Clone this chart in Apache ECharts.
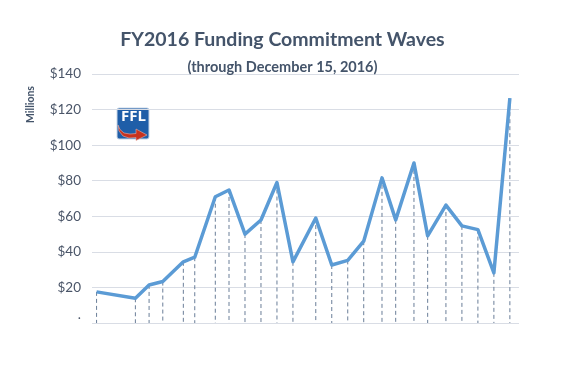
<!DOCTYPE html>
<html><head><meta charset="utf-8">
<script src="https://cdn.jsdelivr.net/npm/echarts@6/dist/echarts.min.js"></script>
<style>html,body{margin:0;padding:0;background:#fff}#c{width:565px;height:382px}</style>
</head><body><div id="c"></div>
<script>
// Wave timing (days from first wave) and commitment amounts ($ millions)
const waveDays = [0,17,23,29,38,43,52,58,65,72,79,86,96,103,110,117,125,131,139,145,153,160,167,174,181];
const waveValues = [17.5,13.9,21.4,23.3,34.4,37,71,74.8,50,57.9,79,34.4,59,32.6,35.2,46,81.6,58,90,49,66.3,54.6,52.5,28.2,126.4];
const yTicks = [0,20,40,60,80,100,120,140];
const titleText = 'FY2016 Funding Commitment Waves';
const subtitleText = '(through December 15, 2016)';
const yAxisName = 'Millions';

const pts = waveDays.map((d,i)=>[d, waveValues[i]]);
const txt = '#44546a';
const arrowPts = [[1,17],[3,21.5],[7,25],[13,26],[19,25.5],[19,21],[30,27],[19,32.5],[19,29.5],[12,30],[6,28],[2,23]];
const chart = echarts.init(document.getElementById('c'));
chart.setOption({
  animation:false,
  title:[
    {text:titleText,left:'center',top:25,textStyle:{fontFamily:'Lato',fontWeight:'bold',fontSize:19.5,color:txt}},
    {text:subtitleText,left:'center',top:55,textStyle:{fontFamily:'Lato',fontWeight:'bold',fontSize:14.5,color:txt}}
  ],
  grid:{left:92,right:46,top:74,bottom:59},
  xAxis:{type:'value',min:-2,max:185,show:false},
  yAxis:{type:'value',min:yTicks[0],max:yTicks[yTicks.length-1],interval:20,
    axisLine:{show:false},axisTick:{show:false},
    splitLine:{lineStyle:{color:'#d9dde5',width:1}},
    axisLabel:{margin:11,fontFamily:'Lato',fontSize:13.5,color:'#4a5568',
      formatter:v=>v===0?'{d|.}':'$'+v,
      rich:{d:{fontFamily:'Lato',fontSize:13.5,color:'#4a5568',padding:[0,0,16,0]}}}
  },
  graphic:[
    {type:'text',x:25,y:123,rotation:Math.PI/2,style:{text:yAxisName,font:'bold 10.5px Lato',fill:txt}},
    {type:'group',x:117,y:108,children:[
      {type:'rect',shape:{x:0,y:0,width:32,height:31,r:2},style:{fill:'#1f5ea8',stroke:'#c9d6e6',lineWidth:1}},
      {type:'polygon',shape:{points:arrowPts},style:{fill:'#c8321e',stroke:'#e8b0a8',lineWidth:0.6}},
      {type:'text',x:16.5,y:1,style:{text:'FFL',font:'bold 15px "Open Sans"',fill:'#ffffff',stroke:null,lineWidth:0,textAlign:'center',textVerticalAlign:'top'}}
    ]}
  ],
  series:[
    {type:'custom',data:pts,z:1,silent:true,
     renderItem:function(params,api){
       const top=api.coord([api.value(0),api.value(1)]);
       const bot=api.coord([api.value(0),0]);
       return {type:'line',shape:{x1:top[0],y1:top[1],x2:bot[0],y2:bot[1]},
         style:{stroke:'#6a7e98',lineWidth:1,lineDash:[4,3]}};
     }},
    {type:'line',data:pts,symbol:'none',z:3,
     lineStyle:{color:'#5b9bd5',width:3.5,join:'round'}}
  ]
});
</script></body></html>
